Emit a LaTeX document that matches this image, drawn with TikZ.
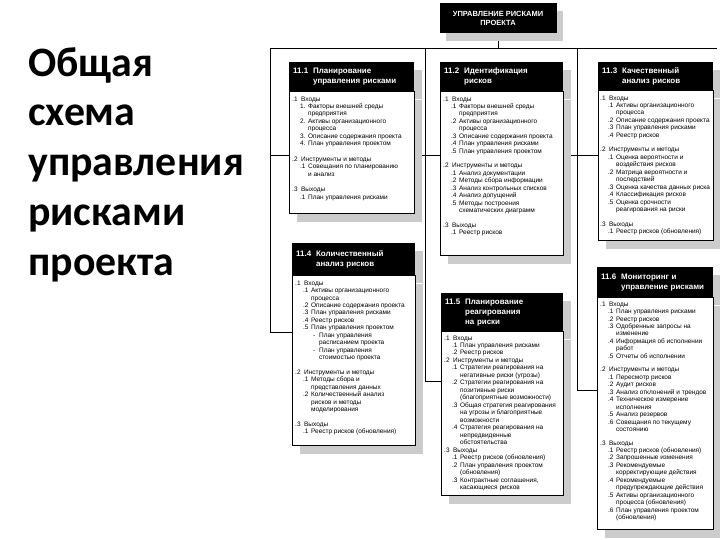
\documentclass[tikz,border=0pt]{standalone}
\usepackage{fontspec}
\setmainfont{Liberation Sans}
\newfontfamily\titlefont{Carlito}
\usetikzlibrary{shadows}

\pgfdeclarelayer{bg}
\pgfsetlayers{bg,main}

% list lines inside the process boxes
\newcommand{\lvone}[2]{\makebox[9pt][l]{#1}#2}
\newcommand{\lvtwo}[2]{\hspace*{8pt}\makebox[8pt][l]{#1}#2}
\newcommand{\lvcont}[1]{\hspace*{16pt}#1}
\newcommand{\lvdash}[1]{\hspace*{18pt}\makebox[6pt][l]{-}#1}
\newcommand{\lvdcont}[1]{\hspace*{24pt}#1}
\newcommand{\hdnum}[2]{\makebox[20pt][l]{#1}#2}
\newcommand{\hdcont}[1]{\hspace*{20pt}#1}

\tikzset{
  conn/.style={draw=black, line width=0.5pt},
  boxshadow/.style={drop shadow={shadow xshift=8bp, shadow yshift=-8bp, fill=gray!40, opacity=1}},
  topbox/.style={fill=black, text=white, align=center, minimum width=117bp, minimum height=30bp,
    inner sep=0pt, font=\bfseries\fontsize{7.5}{9}\selectfont,
    drop shadow={shadow xshift=6bp, shadow yshift=-8bp, fill=gray!40, opacity=1}},
  headbox/.style={fill=black, text=white, anchor=north west, align=left, text width=#1,
    inner xsep=4bp, inner ysep=0pt, font=\bfseries\fontsize{8}{10}\selectfont, boxshadow},
  bodybox/.style={fill=white, draw=black, line width=0.4pt, anchor=north, inner sep=0pt, boxshadow},
  bodytxt/.style={anchor=north west, align=left, inner sep=0pt, font=\fontsize{6.5}{7.5}\selectfont},
  titletxt/.style={anchor=north west, align=left, inner sep=0pt,
    font=\titlefont\bfseries\fontsize{42}{50}\selectfont},
}

\begin{document}
\begin{tikzpicture}[x=1bp, y=-1bp]
    \useasboundingbox (0,0) rectangle (720,540);

    % Title on the left
    \node[titletxt] (title) at (28,47) {Общая\\схема\\управления\\рисками\\проекта};

    % Top box
    \node[topbox] (top) at (498,18) {УПРАВЛЕНИЕ РИСКАМИ\\ПРОЕКТА};

    % 11.1
    \node[headbox=117bp, minimum height=29bp] (h1) at (289,62)
        {\hdnum{11.1}{Планирование}\\\hdcont{управления рисками}};
    \node[bodybox, minimum width=125bp, minimum height=122bp] (b1) at (h1.south) {};
    \node[bodytxt] (t1) at ([shift={(3,5)}]b1.north west) {%
        \lvone{.1}{Входы}\\
        \lvtwo{1.}{Факторы внешней среды}\\
        \lvcont{предприятия}\\
        \lvtwo{2.}{Активы организационного}\\
        \lvcont{процесса}\\
        \lvtwo{3.}{Описание содержания проекта}\\
        \lvtwo{4.}{План управления проектом}\\[8pt]
        \lvone{.2}{Инструменты и методы}\\
        \lvtwo{.1}{Совещания по планированию}\\
        \lvcont{и анализ}\\[8pt]
        \lvone{.3}{Выходы}\\
        \lvtwo{.1}{План управления рисками}};

    % 11.2
    \node[headbox=115bp, minimum height=29bp] (h2) at (440,62)
        {\hdnum{11.2}{Идентификация}\\\hdcont{рисков}};
    \node[bodybox, minimum width=123bp, minimum height=164bp] (b2) at (h2.south) {};
    \node[bodytxt] (t2) at ([shift={(3,5)}]b2.north west) {%
        \lvone{.1}{Входы}\\
        \lvtwo{.1}{Факторы внешней среды}\\
        \lvcont{предприятия}\\
        \lvtwo{.2}{Активы организационного}\\
        \lvcont{процесса}\\
        \lvtwo{.3}{Описание содержания проекта}\\
        \lvtwo{.4}{План управления рисками}\\
        \lvtwo{.5}{План управления проектом}\\[7pt]
        \lvone{.2}{Инструменты и методы}\\
        \lvtwo{.1}{Анализ документации}\\
        \lvtwo{.2}{Методы сбора информации}\\
        \lvtwo{.3}{Анализ контрольных списков}\\
        \lvtwo{.4}{Анализ допущений}\\
        \lvtwo{.5}{Методы построения}\\
        \lvcont{схематических диаграмм}\\[7pt]
        \lvone{.3}{Выходы}\\
        \lvtwo{.1}{Реестр рисков}};

    % 11.3
    \node[headbox=107bp, minimum height=28bp] (h3) at (598,62)
        {\hdnum{11.3}{Качественный}\\\hdcont{анализ рисков}};
    \node[bodybox, minimum width=115bp, minimum height=150bp] (b3) at (h3.south) {};
    \node[bodytxt] (t3) at ([shift={(2,5)}]b3.north west) {%
        \lvone{.1}{Входы}\\
        \lvtwo{.1}{Активы организационного}\\
        \lvcont{процесса}\\
        \lvtwo{.2}{Описание содержания проекта}\\
        \lvtwo{.3}{План управления рисками}\\
        \lvtwo{.4}{Реестр рисков}\\[7pt]
        \lvone{.2}{Инструменты и методы}\\
        \lvtwo{.1}{Оценка вероятности и}\\
        \lvcont{воздействия рисков}\\
        \lvtwo{.2}{Матрица вероятности и}\\
        \lvcont{последствий}\\
        \lvtwo{.3}{Оценка качества данных риска}\\
        \lvtwo{.4}{Классификация рисков}\\
        \lvtwo{.5}{Оценка срочности}\\
        \lvcont{реагирования на риски}\\[7pt]
        \lvone{.3}{Выходы}\\
        \lvtwo{.1}{Реестр рисков (обновления)}};

    % 11.4
    \node[headbox=115bp, minimum height=32bp] (h4) at (292,243)
        {\hdnum{11.4}{Количественный}\\\hdcont{анализ рисков}};
    \node[bodybox, minimum width=123bp, minimum height=170bp] (b4) at (h4.south) {};
    \node[bodytxt] (t4) at ([shift={(3,5)}]b4.north west) {%
        \lvone{.1}{Входы}\\
        \lvtwo{.1}{Активы организационного}\\
        \lvcont{процесса}\\
        \lvtwo{.2}{Описание содержания проекта}\\
        \lvtwo{.3}{План управления рисками}\\
        \lvtwo{.4}{Реестр рисков}\\
        \lvtwo{.5}{План управления проектом}\\
        \lvdash{План управления}\\
        \lvdcont{расписанием проекта}\\
        \lvdash{План управления}\\
        \lvdcont{стоимостью проекта}\\[7pt]
        \lvone{.2}{Инструменты и методы}\\
        \lvtwo{.1}{Методы сбора и}\\
        \lvcont{представления данных}\\
        \lvtwo{.2}{Количественный анализ}\\
        \lvcont{рисков и методы}\\
        \lvcont{моделирования}\\[7pt]
        \lvone{.3}{Выходы}\\
        \lvtwo{.1}{Реестр рисков (обновления)}};

    % 11.5
    \node[headbox=114bp, minimum height=38bp] (h5) at (441,293)
        {\hdnum{11.5}{Планирование}\\\hdcont{реагирования}\\\hdcont{на риски}};
    \node[bodybox, minimum width=122bp, minimum height=164bp] (b5) at (h5.south) {};
    \node[bodytxt] (t5) at ([shift={(3,4)}]b5.north west) {%
        \lvone{.1}{Входы}\\
        \lvtwo{.1}{План управления рисками}\\
        \lvtwo{.2}{Реестр рисков}\\
        \lvone{.2}{Инструменты и методы}\\
        \lvtwo{.1}{Стратегии реагирования на}\\
        \lvcont{негативные риски (угрозы)}\\
        \lvtwo{.2}{Стратегии реагирования на}\\
        \lvcont{позитивные риски}\\
        \lvcont{(благоприятные возможности)}\\
        \lvtwo{.3}{Общая стратегия реагирования}\\
        \lvcont{на угрозы и благоприятные}\\
        \lvcont{возможности}\\
        \lvtwo{.4}{Стратегия реагирования на}\\
        \lvcont{непредвиденные}\\
        \lvcont{обстоятельства}\\
        \lvone{.3}{Выходы}\\
        \lvtwo{.1}{Реестр рисков (обновления)}\\
        \lvtwo{.2}{План управления проектом}\\
        \lvcont{(обновления)}\\
        \lvtwo{.3}{Контрактные соглашения,}\\
        \lvcont{касающиеся рисков}};

    % 11.6
    \node[headbox=108bp, minimum height=30bp] (h6) at (597,267)
        {\hdnum{11.6}{Мониторинг и}\\\hdcont{управление рисками}};
    \node[bodybox, minimum width=116bp, minimum height=232bp] (b6) at (h6.south) {};
    \node[bodytxt] (t6) at ([shift={(3,4)}]b6.north west) {%
        \lvone{.1}{Входы}\\
        \lvtwo{.1}{План управления рисками}\\
        \lvtwo{.2}{Реестр рисков}\\
        \lvtwo{.3}{Одобренные запросы на}\\
        \lvcont{изменение}\\
        \lvtwo{.4}{Информация об исполнении}\\
        \lvcont{работ}\\
        \lvtwo{.5}{Отчеты об исполнении}\\[6pt]
        \lvone{.2}{Инструменты и методы}\\
        \lvtwo{.1}{Пересмотр рисков}\\
        \lvtwo{.2}{Аудит рисков}\\
        \lvtwo{.3}{Анализ отклонений и трендов}\\
        \lvtwo{.4}{Техническое измерение}\\
        \lvcont{исполнения}\\
        \lvtwo{.5}{Анализ резервов}\\
        \lvtwo{.6}{Совещания по текущему}\\
        \lvcont{состоянию}\\[6pt]
        \lvone{.3}{Выходы}\\
        \lvtwo{.1}{Реестр рисков (обновления)}\\
        \lvtwo{.2}{Запрошенные изменения}\\
        \lvtwo{.3}{Рекомендуемые}\\
        \lvcont{корректирующие действия}\\
        \lvtwo{.4}{Рекомендуемые}\\
        \lvcont{предупреждающие действия}\\
        \lvtwo{.5}{Активы организационного}\\
        \lvcont{процесса (обновления)}\\
        \lvtwo{.6}{План управления проектом}\\
        \lvcont{(обновления)}};

    % Connector lines behind the boxes
    \begin{pgfonlayer}{bg}
        \coordinate (busL) at (270,48);
        \coordinate (busR) at (717,48);
        \coordinate (colA) at (425,48);
        \coordinate (colB) at (577,48);
        \draw[conn] (top.south) -- (top.south |- busL);
        \draw[conn] (busL) -- (busR);
        \draw[conn] (busL) |- (b4.west |- 0,332);
        \draw[conn] (busL |- 0,155) -- (b3.west |- 0,155);
        \draw[conn] (colA) |- (b5.west |- 0,381);
        \draw[conn] (colB) |- (b6.west |- 0,390);
    \end{pgfonlayer}
\end{tikzpicture}
\end{document}
